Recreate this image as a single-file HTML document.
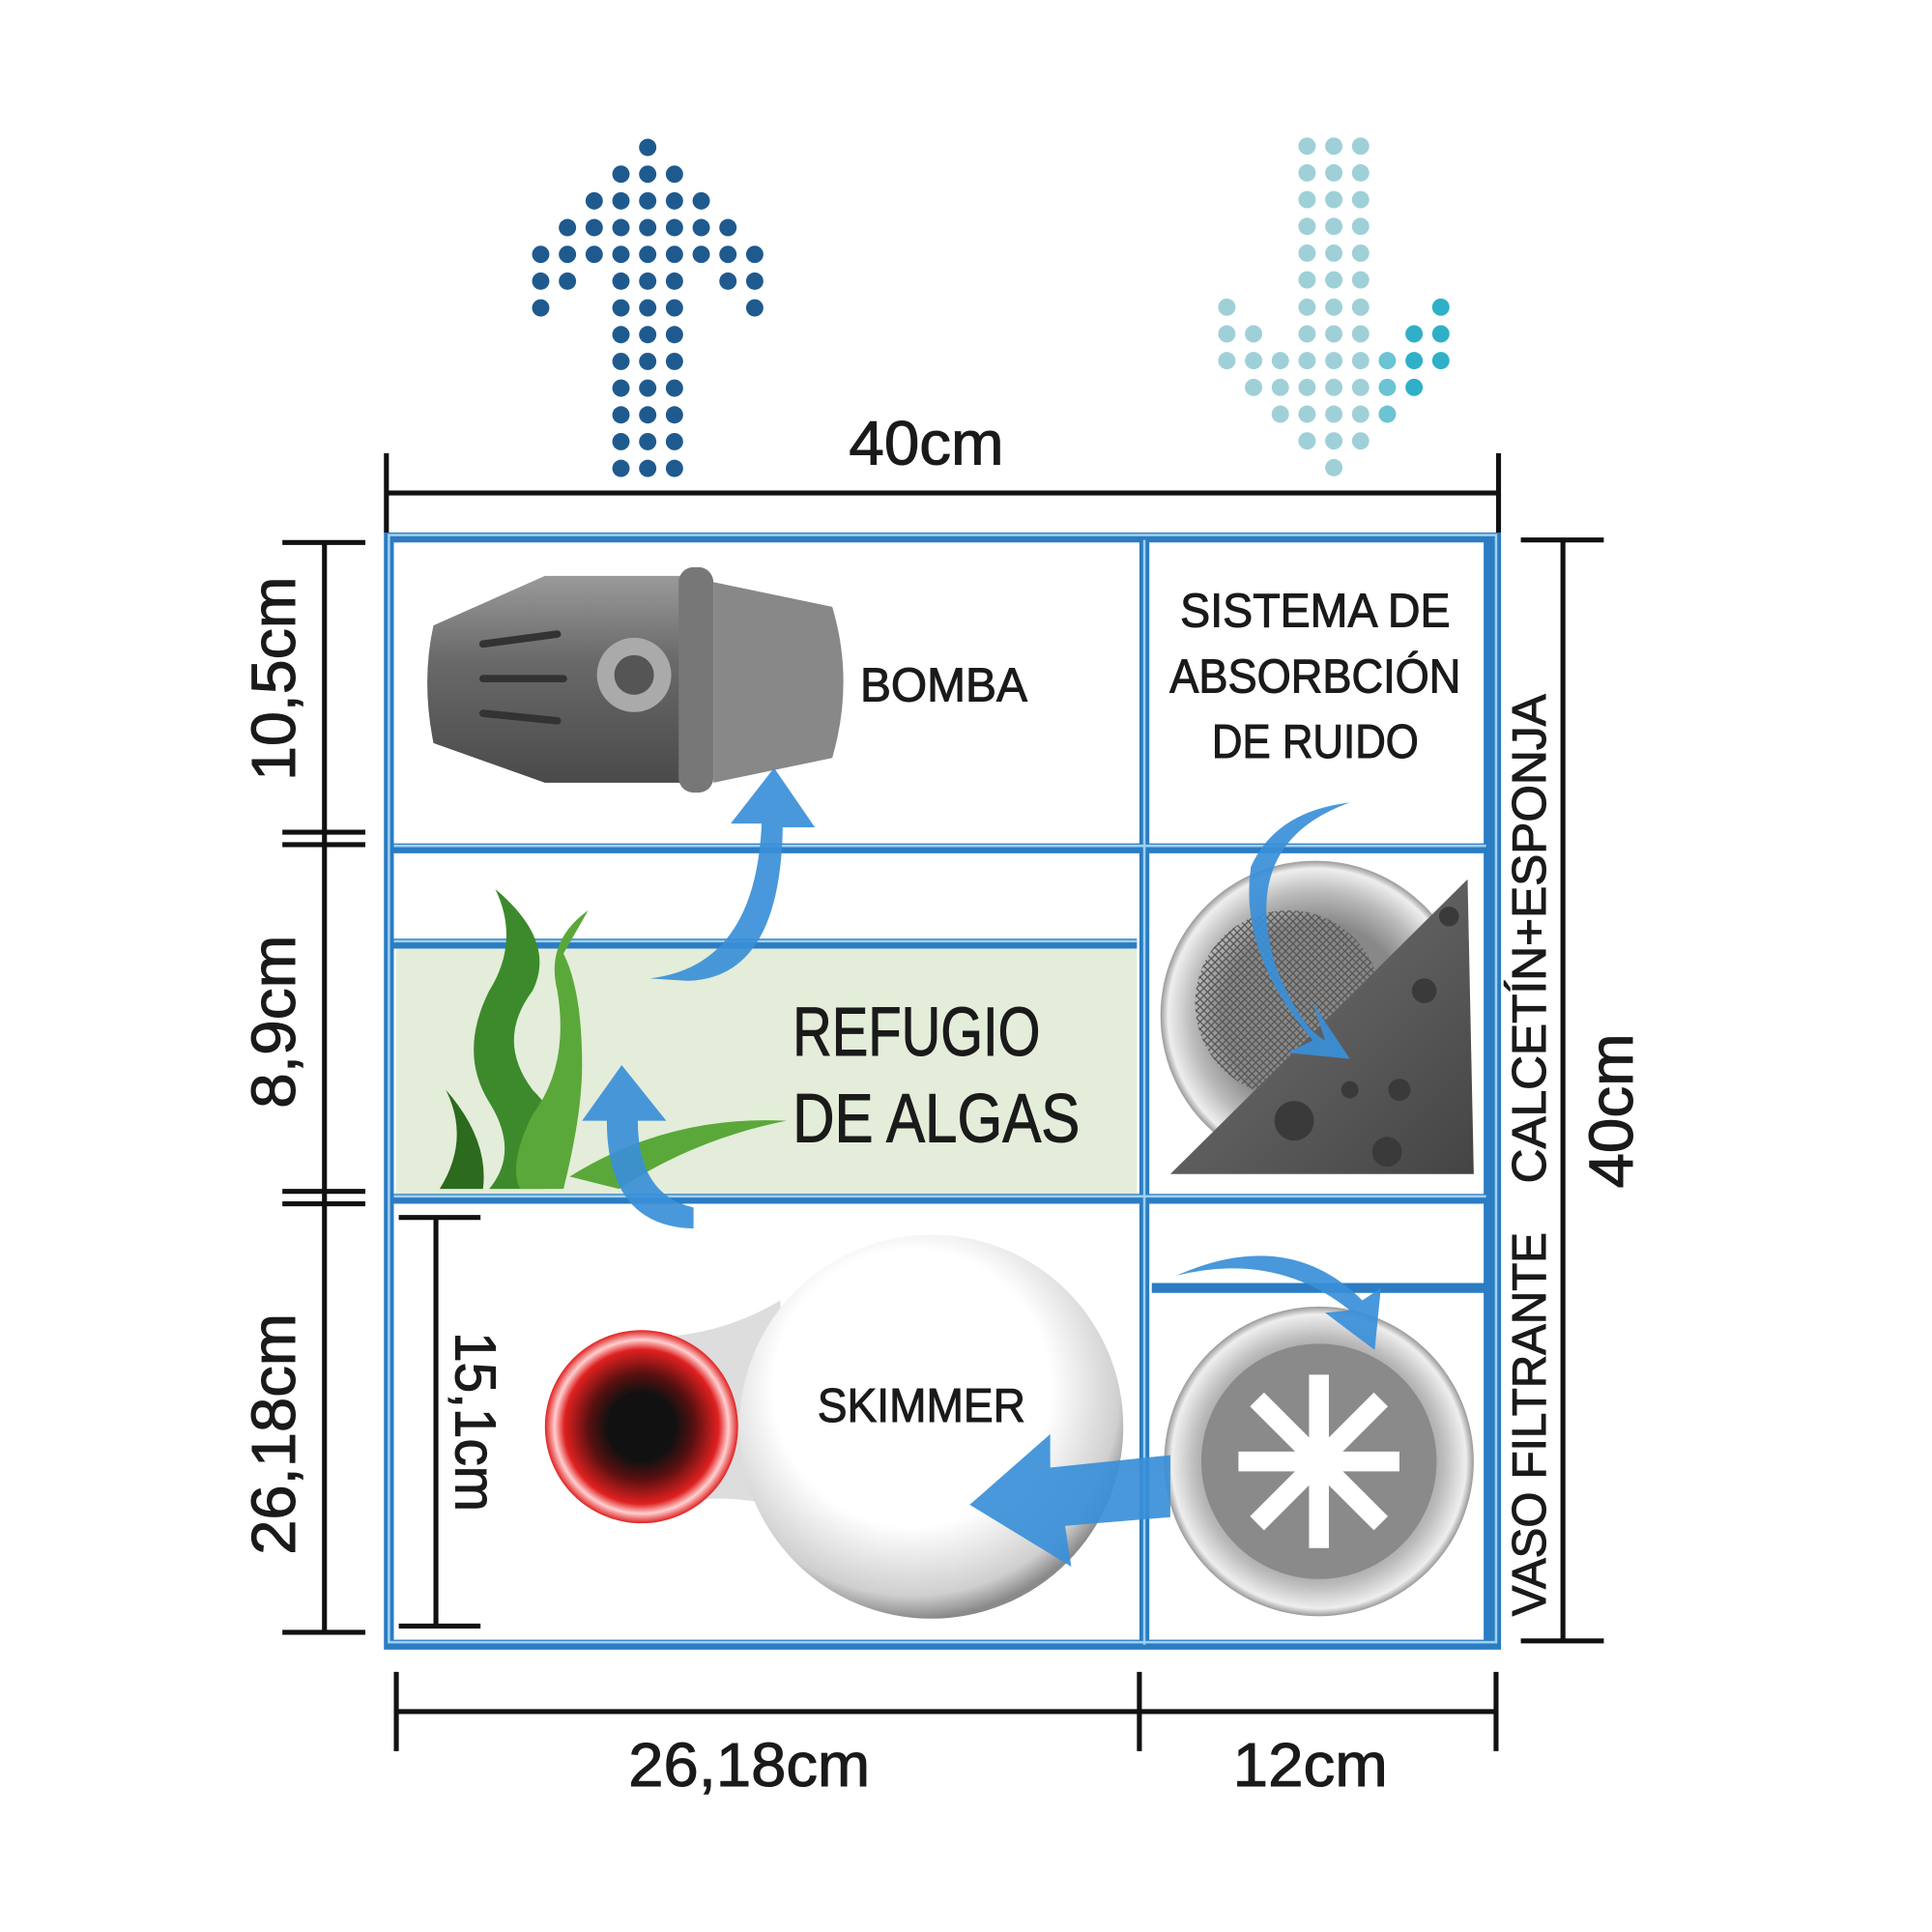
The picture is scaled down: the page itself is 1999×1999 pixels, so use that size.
<!DOCTYPE html>
<html><head><meta charset="utf-8">
<style>
html,body{margin:0;padding:0;background:#fff;}
svg{display:block;}
text{font-family:"Liberation Sans Narrow","Liberation Sans",sans-serif;fill:#1a1a1a;stroke:#1a1a1a;stroke-width:0.8;}
</style></head>
<body>
<svg id="s" width="1999" height="1999" viewBox="0 0 1560 1560" xmlns="http://www.w3.org/2000/svg">
<defs>
<radialGradient id="gball" cx="45%" cy="40%" r="60%"><stop offset="0.6" stop-color="#fff"/><stop offset="0.9" stop-color="#cfcfcf"/><stop offset="1" stop-color="#8a8a8a"/></radialGradient>
<radialGradient id="gred" cx="50%" cy="50%" r="50%"><stop offset="0.35" stop-color="#111"/><stop offset="0.55" stop-color="#5a1010"/><stop offset="0.8" stop-color="#e02020"/><stop offset="0.9" stop-color="#ffd0d0"/><stop offset="1" stop-color="#e02020"/></radialGradient>
<radialGradient id="gfil" cx="50%" cy="50%" r="50%"><stop offset="0.6" stop-color="#888"/><stop offset="0.8" stop-color="#bbb"/><stop offset="0.95" stop-color="#eee"/><stop offset="1" stop-color="#999"/></radialGradient>
<linearGradient id="gpump" x1="0" y1="0" x2="0" y2="1"><stop offset="0" stop-color="#9a9a9a"/><stop offset="0.4" stop-color="#6a6a6a"/><stop offset="1" stop-color="#4a4a4a"/></linearGradient>
<linearGradient id="gsp" x1="0" y1="0" x2="1" y2="1"><stop offset="0" stop-color="#777"/><stop offset="1" stop-color="#444"/></linearGradient>
<pattern id="mesh" width="6" height="6" patternUnits="userSpaceOnUse"><path d="M0 0L6 6M6 0L0 6" stroke="#555" stroke-width="1"/></pattern>
</defs>

<rect x="320" y="766" width="598" height="198" fill="#e3edd9"/>

<g stroke="#2b7cc2" stroke-width="8" fill="none">
<rect x="314" y="434" width="894" height="894"/>
<line x1="924" y1="436" x2="924" y2="1328"/>
<line x1="1202" y1="436" x2="1202" y2="1328"/>
<line x1="318" y1="685" x2="1200" y2="685"/>
<line x1="318" y1="762" x2="918" y2="762"/>
<line x1="318" y1="968" x2="1200" y2="968"/>
<line x1="930" y1="1040" x2="1200" y2="1040"/>
</g>
<g stroke="#9fd0f0" stroke-width="2" fill="none">
<rect x="314" y="432" width="894" height="894"/>
<line x1="924" y1="436" x2="924" y2="1328"/>
<line x1="318" y1="683" x2="1200" y2="683"/>
<line x1="318" y1="760" x2="918" y2="760"/>
<line x1="318" y1="966" x2="1200" y2="966"/>
</g>

<g stroke="#111" stroke-width="4" fill="none">
<line x1="312" y1="398" x2="1210" y2="398"/><line x1="312" y1="366" x2="312" y2="430"/><line x1="1210" y1="366" x2="1210" y2="430"/>
<line x1="262" y1="438" x2="262" y2="1318"/><line x1="228" y1="438" x2="295" y2="438"/>
<line x1="228" y1="672" x2="295" y2="672"/><line x1="228" y1="682" x2="295" y2="682"/>
<line x1="228" y1="962" x2="295" y2="962"/><line x1="228" y1="972" x2="295" y2="972"/>
<line x1="228" y1="1318" x2="295" y2="1318"/>
<line x1="352" y1="983" x2="352" y2="1313"/><line x1="322" y1="983" x2="388" y2="983"/><line x1="322" y1="1313" x2="388" y2="1313"/>
<line x1="1262" y1="436" x2="1262" y2="1325"/><line x1="1228" y1="436" x2="1295" y2="436"/><line x1="1228" y1="1325" x2="1295" y2="1325"/>
<line x1="320" y1="1382" x2="1208" y2="1382"/><line x1="320" y1="1350" x2="320" y2="1414"/><line x1="920" y1="1350" x2="920" y2="1414"/><line x1="1208" y1="1350" x2="1208" y2="1414"/>
</g>

<!-- pump -->
<path d="M350 505 Q340 550 350 600 L440 632 L555 632 L555 465 L440 465 Z" fill="url(#gpump)"/>
<rect x="548" y="458" width="28" height="182" rx="12" fill="#777"/>
<path d="M576 470 L672 490 Q690 550 672 612 L576 632 Z" fill="#888"/>
<circle cx="512" cy="545" r="30" fill="#aaa"/><circle cx="512" cy="545" r="16" fill="#555"/>
<g stroke="#333" stroke-width="6" stroke-linecap="round"><line x1="390" y1="520" x2="450" y2="512"/><line x1="390" y1="548" x2="455" y2="548"/><line x1="390" y1="576" x2="450" y2="582"/></g>

<!-- algae -->
<g fill="#3c8a2c">
<path d="M400 718 Q420 760 395 800 Q370 850 395 890 Q420 930 395 960 L440 960 Q470 920 430 880 Q400 840 430 800 Q450 760 400 718 Z"/>
<path d="M475 735 Q440 760 450 800 Q460 860 430 900 Q410 940 420 960 L455 960 Q470 900 470 860 Q470 800 455 770 Z" fill="#5aa83a"/>
<path d="M360 880 Q380 920 355 960 L390 960 Q395 920 360 880 Z" fill="#2c6a1e"/>
<path d="M460 950 Q540 900 635 905 Q560 920 500 960 Z" fill="#5aa83a"/>
</g>

<!-- skimmer -->
<path d="M520 1080 Q580 1080 630 1050 L640 1220 Q580 1200 520 1220 Z" fill="#ddd"/>
<circle cx="752" cy="1152" r="155" fill="url(#gball)"/>
<circle cx="518" cy="1152" r="78" fill="url(#gred)"/>

<!-- sponge / sock -->
<circle cx="1062" cy="820" r="125" fill="url(#gfil)"/>
<circle cx="1040" cy="810" r="75" fill="url(#mesh)"/>
<path d="M945 948 L1185 710 L1190 948 Z" fill="url(#gsp)"/>
<g fill="#3a3a3a"><circle cx="1045" cy="905" r="16"/><circle cx="1120" cy="930" r="12"/><circle cx="1150" cy="800" r="10"/><circle cx="1170" cy="740" r="8"/><circle cx="1090" cy="880" r="7"/><circle cx="1130" cy="880" r="9"/></g>

<!-- filter -->
<circle cx="1065" cy="1180" r="125" fill="url(#gfil)"/>
<circle cx="1065" cy="1180" r="95" fill="#8a8a8a"/>
<g stroke="#fff" stroke-width="16"><line x1="1065" y1="1110" x2="1065" y2="1250"/><line x1="1000" y1="1180" x2="1130" y2="1180"/><line x1="1015" y1="1130" x2="1115" y2="1230"/><line x1="1115" y1="1130" x2="1015" y2="1230"/></g>

<!-- labels -->
<g font-size="50" text-anchor="middle" lengthAdjust="spacingAndGlyphs">
<text x="748" y="375" textLength="125" lengthAdjust="spacingAndGlyphs">40cm</text>
<text x="605" y="1442" textLength="195" lengthAdjust="spacingAndGlyphs">26,18cm</text>
<text x="1058" y="1442" textLength="125" lengthAdjust="spacingAndGlyphs">12cm</text>
<text transform="translate(238,548) rotate(-90)" textLength="165" lengthAdjust="spacingAndGlyphs">10,5cm</text>
<text transform="translate(238,825) rotate(-90)" textLength="140" lengthAdjust="spacingAndGlyphs">8,9cm</text>
<text transform="translate(238,1158) rotate(-90)" textLength="195" lengthAdjust="spacingAndGlyphs">26,18cm</text>
<text transform="translate(368,1148) rotate(90)" font-size="46" textLength="145" lengthAdjust="spacingAndGlyphs">15,1cm</text>
<text transform="translate(1318,897) rotate(-90)" textLength="125" lengthAdjust="spacingAndGlyphs">40cm</text>
</g>
<g font-size="38" text-anchor="middle">
<text transform="translate(1248,1150) rotate(-90)" textLength="310" lengthAdjust="spacingAndGlyphs">VASO FILTRANTE</text>
<text transform="translate(1248,758) rotate(-90)" textLength="395" lengthAdjust="spacingAndGlyphs">CALCETÍN+ESPONJA</text>
<text x="762" y="566" textLength="135" lengthAdjust="spacingAndGlyphs">BOMBA</text>
<text x="1062" y="506" textLength="218" lengthAdjust="spacingAndGlyphs">SISTEMA DE</text>
<text x="1062" y="559" textLength="235" lengthAdjust="spacingAndGlyphs">ABSORBCIÓN</text>
<text x="1062" y="612" textLength="167" lengthAdjust="spacingAndGlyphs">DE RUIDO</text>
<text x="744" y="1148" textLength="168" lengthAdjust="spacingAndGlyphs">SKIMMER</text>
</g>
<g font-size="56"><text x="640" y="852" textLength="200" lengthAdjust="spacingAndGlyphs">REFUGIO</text><text x="640" y="922" textLength="232" lengthAdjust="spacingAndGlyphs">DE ALGAS</text></g>

<!-- blue arrows -->
<g fill="#3a8fd8" opacity="0.92">
<path d="M525 790 Q610 780 615 665 L590 665 L625 620 L658 668 L632 668 Q630 790 555 792 Z"/>
<path d="M560 992 Q490 990 490 905 L470 905 L502 860 L538 905 L515 905 Q515 965 560 975 Z"/>
<path d="M1090 648 Q1000 680 1030 780 Q1050 830 1070 840 L1060 810 L1090 855 L1040 850 L1060 840 Q1000 770 1010 700 Q1030 655 1090 648 Z"/>
<path d="M950 1030 Q1040 990 1100 1050 L1115 1040 L1110 1090 L1070 1060 L1090 1058 Q1030 1010 950 1030 Z"/>
<path d="M945 1175 L945 1225 L860 1232 L865 1265 L783 1215 L848 1158 L848 1185 Z"/>
</g>

<g id="dots"></g>
</svg>
<script>
var g=document.getElementById('dots'),ns='http://www.w3.org/2000/svg';
function d(x,y,c){var e=document.createElementNS(ns,'circle');e.setAttribute('cx',x);e.setAttribute('cy',y);e.setAttribute('r',7);e.setAttribute('fill',c);g.appendChild(e);}
var s=21.6,cx=523;
var up=[[0],[-1,0,1],[-2,-1,0,1,2],[-3,-2,-1,0,1,2,3],[-4,-3,-2,-1,0,1,2,3,4],[-4,-3,-1,0,1,3,4],[-4,-1,0,1,4]];
for(var r=0;r<up.length;r++)up[r].forEach(function(k){d(cx+k*s,119+r*s,'#1f5a8f');});
for(var r=7;r<13;r++)[-1,0,1].forEach(function(k){d(cx+k*s,119+r*s,'#1f5a8f');});
var dx=1077;
for(var r=0;r<6;r++)[-1,0,1].forEach(function(k){d(dx+k*s,118+r*s,'#9fd0d8');});
var dn=[[-4,-1,0,1,4],[-4,-3,-1,0,1,3,4],[-4,-3,-2,-1,0,1,2,3,4],[-3,-2,-1,0,1,2,3],[-2,-1,0,1,2],[-1,0,1],[0]];
for(var r=0;r<dn.length;r++)dn[r].forEach(function(k){d(dx+k*s,248+r*s,k>=3?'#2fb0c8':(k>=2?'#6cc3d3':'#9fd0d8'));});
</script>
</body></html>
